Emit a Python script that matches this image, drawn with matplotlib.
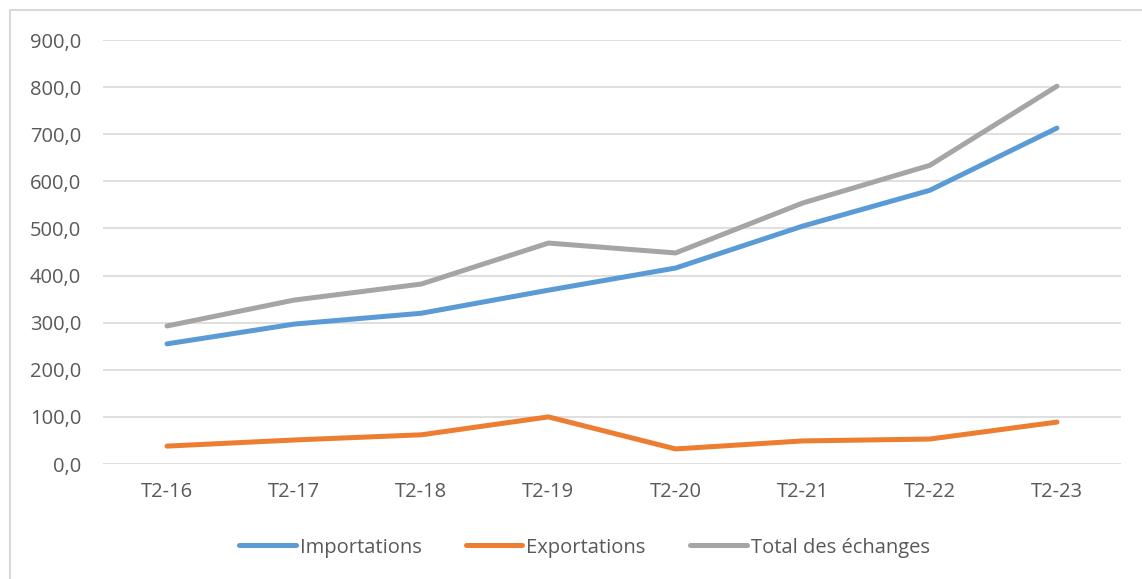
import matplotlib.pyplot as plt
from matplotlib.patches import Rectangle
from matplotlib.ticker import FuncFormatter

# données
periodes = ["T2-16", "T2-17", "T2-18", "T2-19", "T2-20", "T2-21", "T2-22", "T2-23"]
importations = [255, 297, 320, 369, 416, 505, 581, 713]
exportations = [38, 51, 62, 100, 32, 49, 53, 89]
total = [293, 348, 382, 469, 448, 554, 634, 802]

plt.rcParams['font.family'] = ['Open Sans', 'DejaVu Sans']
gris_txt = "#595959"

fig = plt.figure(figsize=(11.42, 5.79), dpi=100)
ax = fig.add_axes([0.0906, 0.1986, 0.8906, 0.7323])

# cadre du graphique
fig.patches.append(Rectangle((10 / 1142, -0.01), 1.2, (579 - 10) / 579 + 0.01,
                             transform=fig.transFigure, fill=False,
                             edgecolor="#d9d9d9", linewidth=1.5))

x = range(len(periodes))
ax.plot(x, importations, color="#5B9BD5", linewidth=3.6, solid_capstyle="round", label="Importations")
ax.plot(x, exportations, color="#ED7D31", linewidth=3.6, solid_capstyle="round", label="Exportations")
ax.plot(x, total, color="#A5A5A5", linewidth=3.6, solid_capstyle="round", label="Total des échanges")

ax.set_xlim(-0.5, len(periodes) - 0.5)
ax.set_ylim(0, 900)
ax.set_yticks(range(0, 901, 100))
ax.yaxis.set_major_formatter(FuncFormatter(lambda v, p: f"{v:.1f}".replace(".", ",")))
ax.set_xticks(list(x))
ax.set_xticklabels(periodes)

ax.grid(axis="y", color="#d9d9d9", linewidth=1.2)
ax.set_axisbelow(True)
for s in ax.spines.values():
    s.set_visible(False)
ax.tick_params(axis="both", length=0, labelsize=14.5, labelcolor=gris_txt)
ax.tick_params(axis="y", pad=16)
ax.tick_params(axis="x", pad=13)

leg = ax.legend(loc="center", bbox_to_anchor=(0.473, -0.197), ncol=3, frameon=False,
                fontsize=14.5, handlelength=2.8, handletextpad=0.2, columnspacing=2.2)
for t in leg.get_texts():
    t.set_color(gris_txt)

plt.savefig("out.png", dpi=100)
